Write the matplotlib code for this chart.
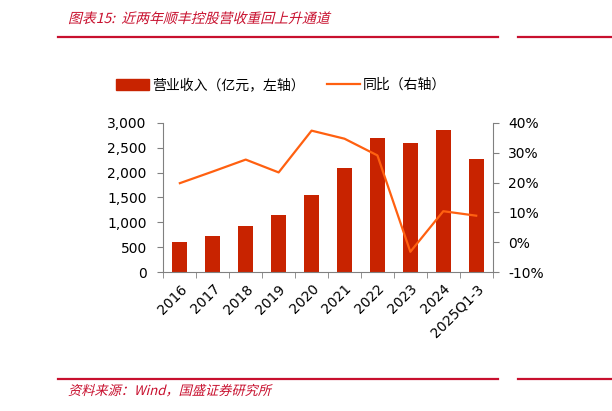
import numpy as np
import matplotlib
matplotlib.use('Agg')
import matplotlib.pyplot as plt
from matplotlib.lines import Line2D
from matplotlib.patches import Patch, PathPatch
from matplotlib.textpath import TextPath
from matplotlib.font_manager import FontProperties
from matplotlib.transforms import Affine2D

plt.rcParams['font.family'] = ['DejaVu Sans', 'Noto Sans CJK SC']

categories = ['2016', '2017', '2018', '2019', '2020', '2021', '2022', '2023', '2024', '2025Q1-3']
revenue = [600, 728, 925, 1150, 1555, 2098, 2695, 2600, 2860, 2280]
yoy = [19.8, 23.7, 27.7, 23.4, 37.4, 34.7, 29.1, -3.2, 10.4, 8.9]

bar_color = '#C82300'
line_color = '#FF6010'
red = '#C8102E'
cjk = ['Noto Sans CJK SC', 'DejaVu Sans']
DPI = 100


def slanted_text(fig, x_px, y_px, s, size, color):
    # CJK fonts have no italic, so shear the glyph outlines by hand
    path = TextPath((0, 0), s, size=size, prop=FontProperties(family='Noto Sans CJK SC'))
    tr = Affine2D().skew_deg(14, 0).scale(DPI / 72).translate(x_px, 411 - y_px)
    fig.add_artist(PathPatch(path, transform=tr, color=color, lw=0))


fig = plt.figure(figsize=(6.12, 4.11), dpi=DPI)
ax = fig.add_axes([0.267, 0.338, 0.538, 0.363])
ax2 = ax.twinx()

x = np.arange(len(categories))
ax.bar(x, revenue, width=0.46, color=bar_color, zorder=2)
ax2.plot(x, [v / 100 for v in yoy], color=line_color, lw=1.6, zorder=3)

ax.set_xlim(-0.5, len(categories) - 0.5)
ax.set_ylim(0, 3000)
ax.set_yticks(range(0, 3001, 500))
ax.set_yticklabels([f'{v:,}' for v in range(0, 3001, 500)])
ax2.set_ylim(-0.1, 0.4)
ax2.set_yticks([-0.1, 0, 0.1, 0.2, 0.3, 0.4])
ax2.set_yticklabels(['-10%', '0%', '10%', '20%', '30%', '40%'])

ax.set_xticks(x)
ax.set_xticklabels(categories, rotation=45, ha='right', rotation_mode='anchor')
ax.set_xticks(np.arange(-0.5, len(categories), 1), minor=True)
ax.tick_params(axis='x', which='major', length=0, labelsize=10, pad=7)
ax.tick_params(axis='x', which='minor', length=4, direction='out', color='#808080')
ax.tick_params(axis='y', length=4, color='#808080', labelsize=10, pad=8)
ax2.tick_params(axis='y', length=4, color='#808080', labelsize=10, pad=7)

for a in (ax, ax2):
    a.spines['top'].set_visible(False)
    for s in ('left', 'right', 'bottom'):
        a.spines[s].set_color('#808080')
ax2.spines['left'].set_visible(False)
ax2.spines['bottom'].set_visible(False)
ax.spines['right'].set_visible(False)

handles = [Patch(color=bar_color), Line2D([], [], color=line_color, lw=1.6)]
fig.legend(handles, ['营业收入（亿元，左轴）', '同比（右轴）'], loc='center',
           bbox_to_anchor=(0.459, 0.793), ncol=2, frameon=False,
           prop={'family': cjk, 'size': 10}, handlelength=2.4, handleheight=0.9,
           handletextpad=0.2, columnspacing=1.6)

slanted_text(fig, 68, 23, '图表15:  近两年顺丰控股营收重回上升通道', 10, red)
fig.add_artist(Line2D([58 / 612, 498 / 612], [1 - 37 / 411] * 2, color=red, lw=1.6))
fig.add_artist(Line2D([518 / 612, 1.0], [1 - 37 / 411] * 2, color=red, lw=1.6))
fig.add_artist(Line2D([58 / 612, 498 / 612], [1 - 379 / 411] * 2, color=red, lw=1.6))
fig.add_artist(Line2D([518 / 612, 1.0], [1 - 379 / 411] * 2, color=red, lw=1.6))
slanted_text(fig, 68, 395, '资料来源：Wind，国盛证券研究所', 9.5, red)

fig.savefig('out.png', dpi=DPI)
